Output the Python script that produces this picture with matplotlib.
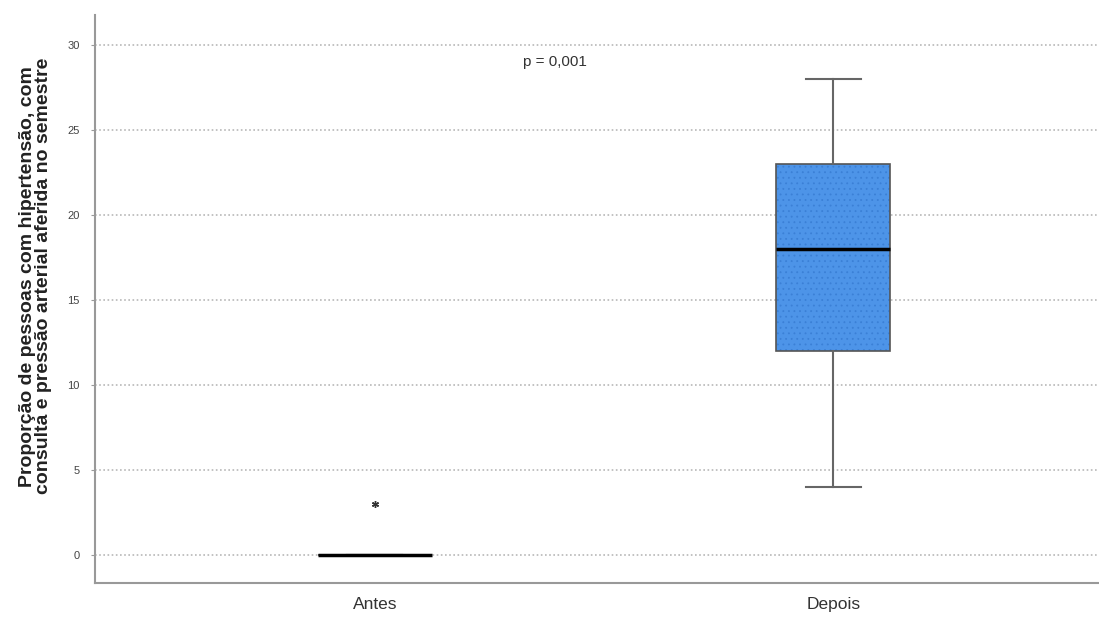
import matplotlib.pyplot as plt
import numpy as np

plt.rcParams['font.family'] = ['Liberation Sans', 'DejaVu Sans']
plt.rcParams['hatch.linewidth'] = 0.6

# box summary values
groups = ['Antes', 'Depois']
whislo = [0, 4]
q1 = [0, 12]
med = [0, 18]
q3 = [0, 23]
whishi = [0, 28]
fliers = [[3], []]
p_text = 'p = 0,001'
yticks = [0, 5, 10, 15, 20, 25, 30]

stats = []
for i in range(len(groups)):
    stats.append({'label': groups[i], 'whislo': whislo[i], 'q1': q1[i], 'med': med[i],
                  'q3': q3[i], 'whishi': whishi[i], 'fliers': fliers[i]})

fig = plt.figure(figsize=(10.99, 6.17), dpi=100)
ax = fig.add_axes([0.0864, 0.0551, 0.9136, 0.9206])

#gridlines first so they sit under the boxes
for y in yticks:
    ax.axhline(y, color='#b8b8b8', lw=1.2, ls=(0, (1, 1.5)), zorder=0)

bp = ax.bxp(stats, positions=[0, 1], widths=0.25, patch_artist=True,
            boxprops=dict(facecolor='#4d94e8', edgecolor='#555555', lw=1.2),
            medianprops=dict(color='black', lw=2.5),
            whiskerprops=dict(color='#666666', lw=1.5),
            capprops=dict(color='#666666', lw=1.5),
            capwidths=0.12,
            flierprops=dict(marker=(6, 2, 0), markersize=5, markeredgecolor='#333333', lw=0.8))
for b in bp['boxes']:
    b.set_hatch('...')
    b._hatch_color = (0.23, 0.5, 0.84, 1.0)
    b.set_zorder(2)

ax.text(0.393, 29.0, p_text, ha='center', va='center', fontsize=11, color='#333333')

ax.set_xlim(-0.611, 1.58)
ax.set_ylim(-1.65, 31.76)
ax.set_yticks(yticks)
ax.set_yticklabels([str(v) for v in yticks], fontsize=8, color='#444444')
ax.set_xticks([0, 1])
ax.set_xticklabels(groups, fontsize=12.5, color='#333333')
ax.tick_params(axis='x', length=0, pad=10)
ax.tick_params(axis='y', length=3, color='#999999', pad=8)

for s in ['top', 'right']:
    ax.spines[s].set_visible(False)
for s in ['left', 'bottom']:
    ax.spines[s].set_color('#999999')
    ax.spines[s].set_linewidth(1.5)

ax.set_ylabel('Proporção de pessoas com hipertensão, com\nconsulta e pressão arterial aferida no semestre',
              fontsize=14, fontweight='bold', color='#222222', linespacing=0.92)
ax.yaxis.set_label_coords(-0.043, 0.54)

fig.savefig('out.png', dpi=100)
